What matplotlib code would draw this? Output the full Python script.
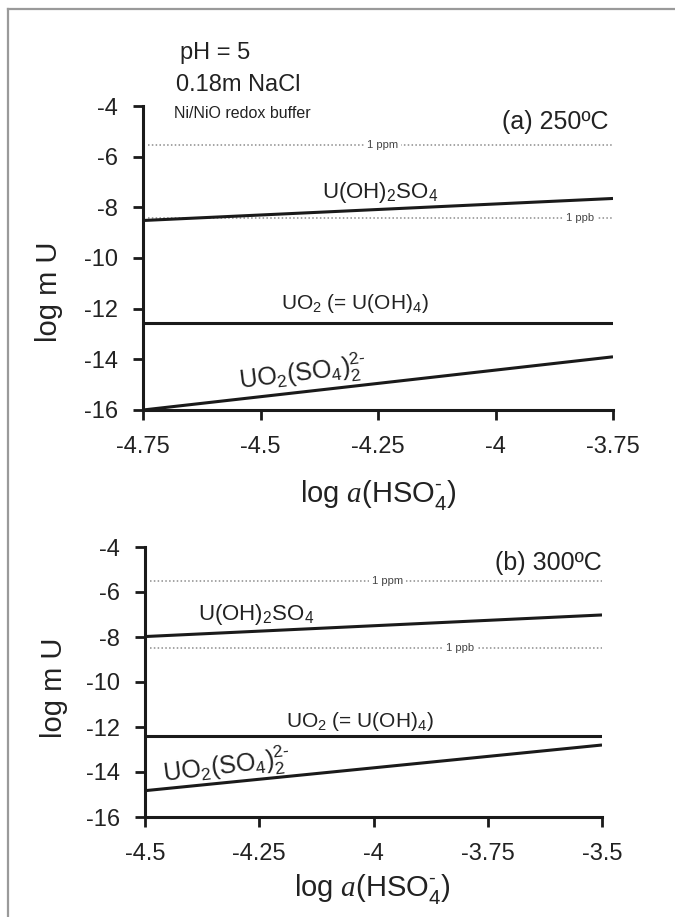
import matplotlib
matplotlib.use("Agg")
import matplotlib.pyplot as plt
from matplotlib.lines import Line2D

plt.rcParams['font.family'] = ['Liberation Sans', 'DejaVu Sans']
plt.rcParams['mathtext.fontset'] = 'custom'
plt.rcParams['mathtext.rm'] = 'Liberation Sans'
plt.rcParams['mathtext.it'] = 'Liberation Serif:italic'
plt.rcParams['mathtext.default'] = 'regular'

# ---------------- data ----------------
# panel (a) 250 C
x_a = [-4.75, -3.75]
uoh2so4_a = [-8.52, -7.65]
uo2_a = [-12.58, -12.58]
uo2so42_a = [-16.0, -13.9]
ppm_a = -5.52
ppb_a = -8.42
xticks_a = [-4.75, -4.5, -4.25, -4, -3.75]
xticklabels_a = ['-4.75', '-4.5', '-4.25', '-4', '-3.75']

# panel (b) 300 C
x_b = [-4.5, -3.5]
uoh2so4_b = [-7.98, -7.02]
uo2_b = [-12.4, -12.4]
uo2so42_b = [-14.83, -12.8]
ppm_b = -5.52
ppb_b = -8.5
xticks_b = [-4.5, -4.25, -4, -3.75, -3.5]
xticklabels_b = ['-4.5', '-4.25', '-4', '-3.75', '-3.5']

yticks = [-4, -6, -8, -10, -12, -14, -16]
yticklabels = ['-4', '-6', '-8', '-10', '-12', '-14', '-16']

W, H = 675, 917
fig = plt.figure(figsize=(W / 100, H / 100), dpi=100)
TXT = '#222222'

# thin grey frame (left and top)
fig.add_artist(Line2D([8 / W, 8 / W], [0, 1 - 9 / H], color='#9a9a9a', lw=1.6, transform=fig.transFigure))
fig.add_artist(Line2D([8 / W, 1], [1 - 9 / H, 1 - 9 / H], color='#9a9a9a', lw=1.6, transform=fig.transFigure))

XLABEL = r'log $\mathit{a}$(HSO$_4^{\text{-}}$)'
UOH2SO4 = r'U(OH)$_{2}$SO$_{4}$'
UO2 = r'UO$_2$ (= U(OH)$_4$)'
UO2SO42 = r'UO$_2$(SO$_4$)$_2^{2\text{-}}$'


def make_axes(rect, x, ylines, ppm, ppb, xticks, xticklabels, labels, ppm_x, ppb_x,
              panel_text, panel_x, panel_y, ylab_y, xlab_y, xlab_x):
    ax = fig.add_axes(rect)
    ax.set_xlim(x[0], x[1])
    ax.set_ylim(-16, -4)
    for sp in ['top', 'right']:
        ax.spines[sp].set_visible(False)
    for sp in ['left', 'bottom']:
        ax.spines[sp].set_linewidth(2.2)
        ax.spines[sp].set_color('#1a1a1a')
    ax.tick_params(axis='both', direction='out', length=7, width=2, labelsize=17,
                   colors='#1a1a1a', labelcolor=TXT)
    ax.tick_params(axis='y', pad=11)
    ax.tick_params(axis='x', pad=12)
    ax.set_xticks(xticks)
    ax.set_xticklabels(xticklabels)
    ax.set_yticks(yticks)
    ax.set_yticklabels(yticklabels)
    ax.set_ylabel('log m U', fontsize=21, color=TXT)
    ax.yaxis.set_label_coords(-0.2, ylab_y)
    ax.yaxis.label.set_va('center')
    ax.set_xlabel(XLABEL, fontsize=21, color=TXT)
    ax.xaxis.set_label_coords(xlab_x, xlab_y)
    ax.xaxis.label.set_va('center')

    dot = dict(color='#8c8c8c', lw=1.1, linestyle=(0, (1, 1.5)))
    xd = [x[0] + 0.01, x[1]]
    ax.plot(xd, [ppm, ppm], **dot)
    ax.plot(xd, [ppb, ppb], **dot)
    ax.text(ppm_x, ppm, '1 ppm', fontsize=8, color='#444444', ha='center', va='center',
            bbox=dict(facecolor='white', edgecolor='none', pad=2))
    ax.text(ppb_x, ppb, '1 ppb', fontsize=8, color='#444444', ha='center', va='center',
            bbox=dict(facecolor='white', edgecolor='none', pad=2))

    for yv in ylines:
        ax.plot(x, yv, color='#1a1a1a', lw=2.2, solid_capstyle='butt')

    for (tx, ty, s, fs, rot) in labels:
        ax.text(tx, ty, s, fontsize=fs, ha='center', va='center', rotation=rot, color=TXT,
                rotation_mode='anchor')
    ax.text(panel_x, panel_y, panel_text, fontsize=18, ha='right', va='center', color=TXT)
    return ax


ax1 = make_axes([143 / W, 1 - 410 / H, (613 - 143) / W, (410 - 106) / H],
                x_a, [uoh2so4_a, uo2_a, uo2so42_a], ppm_a, ppb_a, xticks_a, xticklabels_a,
                [(-4.245, -7.4, UOH2SO4, 16, 0),
                 (-4.30, -11.8, UO2, 15, 0),
                 (-4.41, -14.55, UO2SO42, 18, 7)],
                -4.24, -3.82, '(a) 250ºC', -3.76, -4.65,
                0.39, -0.28, 0.5)

ax2 = make_axes([145 / W, 1 - 817 / H, (602 - 145) / W, (817 - 547) / H],
                x_b, [uoh2so4_b, uo2_b, uo2so42_b], ppm_b, ppb_b, xticks_b, xticklabels_b,
                [(-4.257, -7.0, UOH2SO4, 16, 0),
                 (-4.03, -11.75, UO2, 15, 0),
                 (-4.32, -13.75, UO2SO42, 18, 7)],
                -3.97, -3.81, '(b) 300ºC', -3.5, -4.7,
                0.478, -0.265, 0.497)

fig.text(180 / W, 1 - 53 / H, 'pH = 5', fontsize=17, va='center', ha='left', color=TXT)
fig.text(176 / W, 1 - 85 / H, '0.18m NaCl', fontsize=17, va='center', ha='left', color=TXT)
fig.text(174 / W, 1 - 113 / H, 'Ni/NiO redox buffer', fontsize=11.5, va='center', ha='left', color=TXT)

fig.savefig('out.png', dpi=100, facecolor='white')
